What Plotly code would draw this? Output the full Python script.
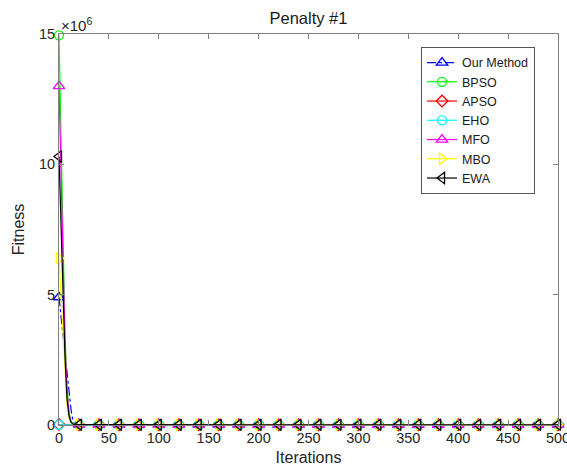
import plotly.graph_objects as go

# Iteration points at which the convergence curves are sampled
ITERATIONS = [0, 2, 4, 6, 8, 10, 12, 14, 16,
              20, 40, 60, 80, 100, 120, 140, 160, 180, 200,
              220, 240, 260, 280, 300, 320, 340, 360, 380, 400,
              420, 440, 460, 480, 500]

# Best fitness per iteration (units of 1e6)
OUR_METHOD = [4.90, 4.20, 3.40, 2.60, 2.00, 1.40, 0.60, 0.15, 0.05,
              0.012, 0.010, 0.009, 0.008, 0.008, 0.007, 0.007, 0.007, 0.006, 0.006,
              0.006, 0.006, 0.006, 0.005, 0.005, 0.005, 0.005, 0.005, 0.005, 0.005,
              0.005, 0.005, 0.005, 0.005, 0.005]
BPSO = [14.95, 11.00, 6.50, 3.50, 1.50, 0.50, 0.15, 0.05, 0.02,
        0.015, 0.013, 0.012, 0.011, 0.011, 0.010, 0.010, 0.010, 0.010, 0.010,
        0.009, 0.009, 0.009, 0.009, 0.009, 0.009, 0.009, 0.009, 0.009, 0.009,
        0.009, 0.009, 0.009, 0.009, 0.009]
APSO = [0.020, 0.018, 0.016, 0.015, 0.014, 0.013, 0.013, 0.012, 0.012,
        0.011, 0.010, 0.010, 0.009, 0.009, 0.009, 0.008, 0.008, 0.008, 0.008,
        0.008, 0.008, 0.007, 0.007, 0.007, 0.007, 0.007, 0.007, 0.007, 0.007,
        0.007, 0.007, 0.007, 0.007, 0.007]
EHO = [0.010, 0.010, 0.010, 0.010, 0.010, 0.010, 0.010, 0.010, 0.010,
       0.010, 0.009, 0.009, 0.009, 0.009, 0.009, 0.009, 0.009, 0.009, 0.009,
       0.009, 0.009, 0.009, 0.009, 0.009, 0.009, 0.009, 0.009, 0.009, 0.009,
       0.009, 0.009, 0.009, 0.009, 0.009]
MFO = [13.00, 9.80, 6.00, 3.20, 1.30, 0.45, 0.12, 0.04, 0.02,
       0.014, 0.012, 0.011, 0.010, 0.010, 0.010, 0.009, 0.009, 0.009, 0.009,
       0.009, 0.009, 0.009, 0.009, 0.009, 0.009, 0.009, 0.009, 0.009, 0.009,
       0.009, 0.009, 0.009, 0.009, 0.009]
MBO = [6.40, 5.00, 3.30, 1.80, 0.80, 0.25, 0.08, 0.03, 0.02,
       0.013, 0.011, 0.010, 0.010, 0.009, 0.009, 0.009, 0.009, 0.009, 0.009,
       0.008, 0.008, 0.008, 0.008, 0.008, 0.008, 0.008, 0.008, 0.008, 0.008,
       0.008, 0.008, 0.008, 0.008, 0.008]
EWA = [10.30, 7.50, 4.80, 2.60, 1.00, 0.35, 0.10, 0.04, 0.02,
       0.012, 0.011, 0.010, 0.009, 0.009, 0.009, 0.008, 0.008, 0.008, 0.008,
       0.008, 0.008, 0.008, 0.008, 0.008, 0.008, 0.008, 0.008, 0.008, 0.008,
       0.008, 0.008, 0.008, 0.008, 0.008]

SERIES = [
    ("Our Method", OUR_METHOD, "#0000ff", "triangle-up-open", "dashdot", 10),
    ("BPSO", BPSO, "#00ff00", "circle-open", "solid", 9),
    ("APSO", APSO, "#ff0000", "diamond-open", "solid", 9),
    ("EHO", EHO, "#00ffff", "circle-open", "solid", 9),
    ("MFO", MFO, "#ff00ff", "triangle-up-open", "solid", 10),
    ("MBO", MBO, "#ffff00", "triangle-right-open", "solid", 10),
    ("EWA", EWA, "#000000", "triangle-left-open", "solid", 10),
]

SCALE = 1e6
MARKER_STEP = 20
FONT = "Liberation Sans, Arial, sans-serif"

fig = go.Figure()
for name, vals, color, symbol, dash, msize in SERIES:
    y = [v * SCALE for v in vals]
    # full convergence curve
    fig.add_trace(go.Scatter(
        x=ITERATIONS, y=y, mode="lines", showlegend=False, legendgroup=name,
        line=dict(color=color, width=1.2, dash=dash), cliponaxis=False,
        hoverinfo="skip"))
    # markers every MARKER_STEP iterations
    mx = [i for i in ITERATIONS if i % MARKER_STEP == 0]
    my = [yy for i, yy in zip(ITERATIONS, y) if i % MARKER_STEP == 0]
    fig.add_trace(go.Scatter(
        x=mx, y=my, mode="markers", showlegend=False, legendgroup=name,
        marker=dict(symbol=symbol, size=msize, color=color,
                    line=dict(color=color, width=1.3)),
        cliponaxis=False))
    # legend entry
    fig.add_trace(go.Scatter(
        x=[None], y=[None], mode="lines+markers", name=name, legendgroup=name,
        line=dict(color=color, width=1.2, dash=dash),
        marker=dict(symbol=symbol, size=msize, color=color,
                    line=dict(color=color, width=1.3))))

axis_common = dict(
    showline=True, linecolor="#808080", linewidth=1, mirror="ticks",
    ticks="inside", ticklen=5, tickcolor="#808080", tickwidth=1,
    showgrid=False, zeroline=False, automargin=False,
    tickfont=dict(family=FONT, size=14.5, color="#262626"),
)

fig.update_layout(
    width=567, height=472,
    margin=dict(l=59, r=9, t=34, b=47),
    paper_bgcolor="white", plot_bgcolor="white",
    font=dict(family=FONT, color="#262626"),
    title=dict(text="Penalty #1", xref="paper", x=0.5, xanchor="center",
               yref="container", y=0.962, yanchor="middle",
               font=dict(size=16.5, color="#1a1a1a")),
    xaxis=dict(range=[0, 500], tickvals=[0, 50, 100, 150, 200, 250, 300, 350, 400, 450, 500],
               ticklabeloverflow="allow",
               title=dict(text="Iterations", font=dict(size=16), standoff=6),
               **axis_common),
    yaxis=dict(range=[0, 15e6], tickvals=[0, 5e6, 10e6, 15e6], ticktext=["0", "5", "10", "15"],
               title=dict(text="Fitness", font=dict(size=16), standoff=10),
               **axis_common),
    legend=dict(x=0.7255, y=0.967, xanchor="left", yanchor="top",
                bordercolor="#555555", borderwidth=1, bgcolor="white",
                font=dict(size=12.5, color="#1a1a1a"), tracegroupgap=0),
    annotations=[dict(text="×10<sup>6</sup>", xref="paper", yref="paper", x=0, y=1,
                      xanchor="left", yanchor="bottom", xshift=0, yshift=-2, showarrow=False,
                      font=dict(family=FONT, size=15, color="#262626"))],
)

fig.write_html("out.html")
